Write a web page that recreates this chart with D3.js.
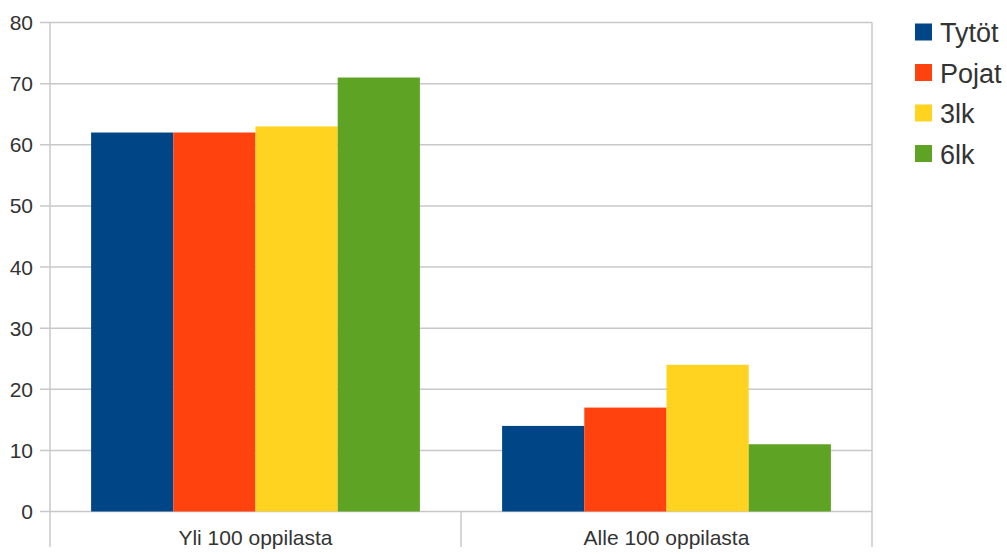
<!DOCTYPE html>
<html>
<head>
<meta charset="utf-8">
<script src="https://cdn.jsdelivr.net/npm/d3@7"></script>
<style>
  body { margin: 0; background: #fff; }
  text { font-family: "Liberation Sans", Arial, sans-serif; fill: #333; }
</style>
</head>
<body>
<div id="chart"></div>
<script>
var width = 1007;
var height = 554;

// data
var categories = ["Yli 100 oppilasta", "Alle 100 oppilasta"];
var seriesNames = ["Tytöt", "Pojat", "3lk", "6lk"];
var tytot = [62, 14];
var pojat = [62, 17];
var lk3 = [63, 24];
var lk6 = [71, 11];
var colors = ["#004586", "#ff420e", "#ffd320", "#5ea323"];
var yTicks = [0, 10, 20, 30, 40, 50, 60, 70, 80];

var seriesValues = [tytot, pojat, lk3, lk6];

// plot area (window.top is reserved, so use other names)
var plotLeft = 50, plotRight = 872, plotTop = 22.5, plotBottom = 511.5;

var svg = d3.select("#chart").append("svg")
  .attr("width", width)
  .attr("height", height);

var x0 = d3.scaleBand().domain(categories).range([plotLeft, plotRight]).padding(0);
var x1 = d3.scaleBand().domain(seriesNames).range([0, x0.bandwidth()])
  .paddingInner(0).paddingOuter(0.5);
var y = d3.scaleLinear().domain([0, 80]).range([plotBottom, plotTop]);

// grid lines
svg.append("g").selectAll("line")
  .data(yTicks)
  .enter().append("line")
  .attr("x1", plotLeft - 10)
  .attr("x2", plotRight)
  .attr("y1", function(d) { return y(d); })
  .attr("y2", function(d) { return y(d); })
  .attr("stroke", "#c8c8c8")
  .attr("stroke-width", 1.5);

// y labels
svg.append("g").selectAll("text")
  .data(yTicks)
  .enter().append("text")
  .attr("x", 33)
  .attr("y", function(d) { return y(d) + 7.5; })
  .attr("text-anchor", "end")
  .style("font-size", "21px")
  .text(function(d) { return d; });

// bars
var rows = [];
categories.forEach(function(c, i) {
  seriesNames.forEach(function(s, j) {
    rows.push({ cat: c, name: s, value: seriesValues[j][i], color: colors[j] });
  });
});

svg.append("g").selectAll("rect")
  .data(rows)
  .enter().append("rect")
  .attr("x", function(d) { return x0(d.cat) + x1(d.name); })
  .attr("width", x1.bandwidth())
  .attr("y", function(d) { return y(d.value); })
  .attr("height", function(d) { return y(0) - y(d.value); })
  .attr("fill", function(d) { return d.color; });

// category dividers and axes
var dividers = [plotLeft, x0(categories[1]), plotRight];
svg.append("g").selectAll("line")
  .data(dividers)
  .enter().append("line")
  .attr("x1", function(d) { return d; })
  .attr("x2", function(d) { return d; })
  .attr("y1", function(d, i) { return i == 1 ? plotBottom : plotTop; })
  .attr("y2", 547)
  .attr("stroke", "#c8c8c8")
  .attr("stroke-width", 1.5);

// category labels
svg.append("g").selectAll("text")
  .data(categories)
  .enter().append("text")
  .attr("x", function(d) { return x0(d) + x0.bandwidth() / 2; })
  .attr("y", 545)
  .attr("text-anchor", "middle")
  .style("font-size", "21px")
  .text(function(d) { return d; });

// legend
var legend = svg.append("g").selectAll("g")
  .data(seriesNames)
  .enter().append("g")
  .attr("transform", function(d, i) { return "translate(915," + (32 + i * 40.5) + ")"; });

legend.append("rect")
  .attr("x", 0)
  .attr("y", -8.5)
  .attr("width", 17)
  .attr("height", 17)
  .attr("fill", function(d, i) { return colors[i]; });

legend.append("text")
  .attr("x", 25)
  .attr("y", 10)
  .style("font-size", "27px")
  .text(function(d) { return d; });
</script>
</body>
</html>
